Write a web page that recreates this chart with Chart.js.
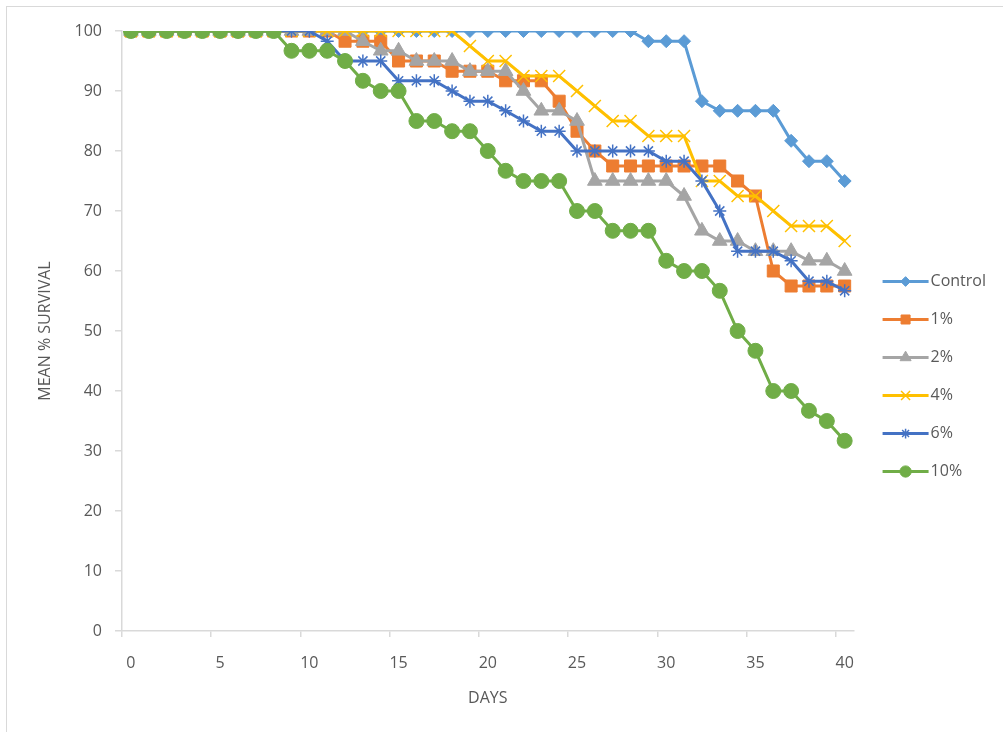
<!DOCTYPE html>
<html>
<head>
<meta charset="utf-8">
<script src="https://cdn.jsdelivr.net/npm/chart.js@4"></script>
<style>
  body { margin: 0; background: #fff; overflow: hidden; }
  #frame { position: absolute; left: 6px; top: 6px; width: 1010px; height: 740px; border: 1px solid #d9d9d9; }
  #wrap { position: absolute; left: 0; top: 0; width: 1003px; height: 732px; }
</style>
</head>
<body>
<div id="frame"></div>
<div id="wrap"><canvas id="myChart"></canvas></div>
<script>
// days 0..40
let days = [];
for (let d = 0; d <= 40; d++) days.push(String(d));

let control = [100,100,100,100,100,100,100,100,100,100,100,100,100,100,100,100,100,100,100,100,
  100,100,100,100,100,100,100,100,100,98.3,98.3,98.3,88.3,86.7,86.7,86.7,86.7,81.7,78.3,78.3,75];
let pct1 = [100,100,100,100,100,100,100,100,100,100,100,100,98.3,98.3,98.3,95,95,95,93.3,93.3,
  93.3,91.7,91.7,91.7,88.3,83.3,80,77.5,77.5,77.5,77.5,77.5,77.5,77.5,75,72.5,60,57.5,57.5,57.5,57.5];
let pct2 = [100,100,100,100,100,100,100,100,100,100,100,100,100,98.3,96.7,96.7,95,95,95,93.3,
  93.3,93.3,90,86.7,86.7,85,75,75,75,75,75,72.5,66.7,65,65,63.3,63.3,63.3,61.7,61.7,60];
let pct4 = [100,100,100,100,100,100,100,100,100,100,100,100,100,100,100,100,100,100,100,97.5,
  95,95,92.5,92.5,92.5,90,87.5,85,85,82.5,82.5,82.5,75,75,72.5,72.5,70,67.5,67.5,67.5,65];
let pct6 = [100,100,100,100,100,100,100,100,100,100,100,98.3,95,95,95,91.7,91.7,91.7,90,88.3,
  88.3,86.7,85,83.3,83.3,80,80,80,80,80,78.3,78.3,75,70,63.3,63.3,63.3,61.7,58.3,58.3,56.7];
let pct10 = [100,100,100,100,100,100,100,100,100,96.7,96.7,96.7,95,91.7,90,90,85,85,83.3,83.3,
  80,76.7,75,75,75,70,70,66.7,66.7,66.7,61.7,60,60,56.7,50,46.7,40,40,36.7,35,31.7];

let seriesNames = ["Control", "1%", "2%", "4%", "6%", "10%"];
let seriesValues = [control, pct1, pct2, pct4, pct6, pct10];
let seriesColors = ["#5B9BD5", "#ED7D31", "#A5A5A5", "#FFC000", "#4472C4", "#70AD47"];
let markers = [
  {style: "rectRot", radius: 6.5, border: 1},
  {style: "rect", radius: 8.5, border: 1},
  {style: "triangle", radius: 8.5, border: 1},
  {style: "crossRot", radius: 8.5, border: 1.5},
  {style: "star", radius: 6.5, border: 1.5},
  {style: "circle", radius: 7.5, border: 1}
];

Chart.defaults.font.family = "'Open Sans', sans-serif";
Chart.defaults.font.size = 16;
Chart.defaults.color = "#595959";

const legendMarkers = {
  id: "legendMarkers",
  afterLayout(chart) {
    // nudge the legend block to where the original sits
    const lg = chart.legend;
    lg.left += 7; lg.right += 7;
    lg.top -= 5; lg.bottom -= 5;
  },
  afterDraw(chart) {
    const legend = chart.legend;
    const ctx = chart.ctx;
    const boxW = legend.options.labels.boxWidth;
    const fontSize = legend.options.labels.font.size;
    legend.legendHitBoxes.forEach(function(box, i) {
      const item = legend.legendItems[i];
      const m = markers[item.datasetIndex];
      const col = seriesColors[item.datasetIndex];
      const cy = box.top + fontSize / 2;
      ctx.save();
      ctx.strokeStyle = col;
      ctx.lineWidth = 3;
      ctx.beginPath();
      ctx.moveTo(box.left, cy);
      ctx.lineTo(box.left + boxW + 6, cy);
      ctx.stroke();
      ctx.fillStyle = col;
      ctx.lineWidth = m.border;
      Chart.helpers.drawPoint(ctx, {pointStyle: m.style, radius: m.radius * 0.75, rotation: 0, borderWidth: m.border},
        box.left + (boxW + 6) / 2, cy);
      ctx.restore();
    });
  }
};

function renderChart() {
  var ctx = document.getElementById("myChart").getContext("2d");
  let datasets = seriesNames.map(function(name, i) {
    return {
      label: name,
      data: seriesValues[i],
      borderColor: seriesColors[i],
      backgroundColor: seriesColors[i],
      borderWidth: 3,
      tension: 0,
      pointStyle: markers[i].style,
      pointRadius: markers[i].radius,
      pointHoverRadius: markers[i].radius,
      pointBorderWidth: markers[i].border,
      pointBackgroundColor: seriesColors[i],
      pointBorderColor: seriesColors[i],
      order: seriesNames.length - i
    };
  });

  new Chart(ctx, {
    type: "line",
    data: { labels: days, datasets: datasets },
    plugins: [legendMarkers],
    options: {
      responsive: true,
      maintainAspectRatio: false,
      animation: false,
      layout: { padding: { top: 31, right: 14, bottom: 0, left: 0 } },
      plugins: {
        tooltip: { enabled: false },
        legend: {
          position: "right",
          labels: {
            boxWidth: 40,
            boxHeight: 3,
            padding: 22,
            font: { size: 16 },
            color: "#595959",
            sort: (a, b) => a.datasetIndex - b.datasetIndex,
            generateLabels: function(chart) {
              return Chart.defaults.plugins.legend.labels.generateLabels(chart).map(function(l) {
                l.lineWidth = 0;
                l.fillStyle = "rgba(0,0,0,0)";
                return l;
              });
            }
          }
        }
      },
      scales: {
        x: {
          type: "category",
          offset: true,
          grid: {
            offset: true,
            drawOnChartArea: false,
            tickLength: 6,
            lineWidth: 1.5,
            color: (c) => (c.index % 5 === 0 && c.index <= 40) ? "#d9d9d9" : "rgba(0,0,0,0)"
          },
          border: { color: "#d9d9d9", width: 1.5 },
          ticks: {
            autoSkip: false,
            maxRotation: 0,
            padding: 17,
            callback: function(val, i) { return i % 5 === 0 ? this.getLabelForValue(val) : ""; }
          },
          title: { display: true, text: "DAYS", font: { size: 16 }, padding: { top: 0, bottom: 24 } },
          afterFit: function(scale) { scale.height = 101; }
        },
        y: {
          min: 0,
          max: 100,
          grid: { drawOnChartArea: false, tickLength: 7, color: "#d9d9d9", lineWidth: 1.5 },
          border: { color: "#d9d9d9", width: 1.5 },
          ticks: { stepSize: 10, padding: 13 },
          title: { display: true, text: "MEAN % SURVIVAL", font: { size: 16 }, padding: { top: 36, bottom: 0 } },
          afterFit: function(scale) { scale.width = 122; }
        }
      }
    }
  });
}

renderChart();
</script>
</body>
</html>
